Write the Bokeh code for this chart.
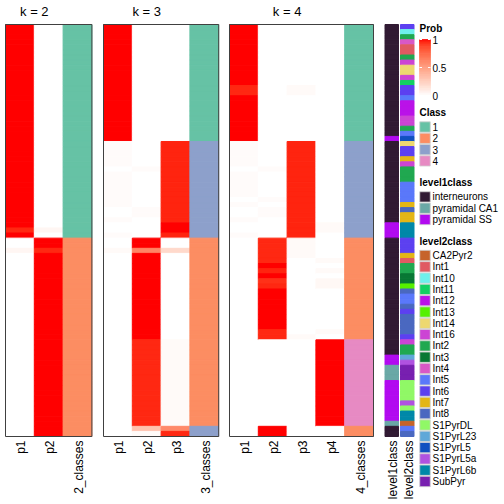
import math
import numpy as np
from bokeh.plotting import figure
from bokeh.models import Range1d, LinearColorMapper, ColumnDataSource
from bokeh.embed import file_html
from bokeh.resources import INLINE
from bokeh.core.properties import value

# ---------------- data ----------------
N_ROWS = 81

K2_P1 = [1, 1, 1, 1, 1, 1, 1, 1, 1, 1,
         1, 1, 1, 1, 1, 1, 1, 1, 1, 1,
         1, 1, 1, 1, 1, 1, 1, 1, 1, 1,
         1, 1, 1, 1, 1, 1, 1, 1, 1, 1,
         0.95, 1, 0, 0, 0.05, 0, 0, 0, 0, 0,
         0, 0, 0, 0, 0, 0, 0, 0, 0, 0,
         0, 0, 0, 0, 0, 0, 0, 0, 0, 0,
         0, 0, 0, 0, 0, 0, 0, 0, 0, 0,
         0]
K2_P2 = [0, 0, 0, 0, 0, 0, 0, 0, 0, 0,
         0, 0, 0, 0, 0, 0, 0, 0, 0, 0,
         0, 0, 0, 0, 0, 0, 0, 0, 0, 0,
         0, 0, 0, 0, 0, 0, 0, 0, 0, 0,
         0.05, 0, 1, 1, 0.95, 1, 1, 1, 1, 1,
         1, 1, 1, 1, 1, 1, 1, 1, 1, 1,
         1, 1, 1, 1, 1, 1, 1, 1, 1, 1,
         1, 1, 1, 1, 1, 1, 1, 1, 1, 1,
         1]
K2_CLASS = [1, 1, 1, 1, 1, 1, 1, 1, 1, 1,
            1, 1, 1, 1, 1, 1, 1, 1, 1, 1,
            1, 1, 1, 1, 1, 1, 1, 1, 1, 1,
            1, 1, 1, 1, 1, 1, 1, 1, 1, 1,
            1, 1, 2, 2, 2, 2, 2, 2, 2, 2,
            2, 2, 2, 2, 2, 2, 2, 2, 2, 2,
            2, 2, 2, 2, 2, 2, 2, 2, 2, 2,
            2, 2, 2, 2, 2, 2, 2, 2, 2, 2,
            2]

K3_P1 = [1, 1, 1, 1, 1, 1, 1, 1, 1, 1,
         1, 1, 1, 1, 1, 1, 1, 1, 1, 1,
         1, 1, 1, 0.02, 0.02, 0.02, 0.02, 0.02, 0, 0.02,
         0.02, 0.02, 0.02, 0.02, 0.02, 0.02, 0, 0, 0.02, 0,
         0, 0.02, 0, 0, 0.03, 0, 0, 0, 0, 0,
         0, 0, 0, 0, 0, 0, 0, 0, 0, 0,
         0, 0, 0, 0, 0, 0, 0, 0, 0, 0,
         0, 0, 0, 0, 0, 0, 0, 0, 0, 0,
         0]
K3_P2 = [0, 0, 0, 0, 0, 0, 0, 0, 0, 0,
         0, 0, 0, 0, 0, 0, 0, 0, 0, 0,
         0, 0, 0, 0, 0, 0, 0, 0, 0.02, 0,
         0, 0, 0, 0, 0, 0, 0.02, 0.02, 0, 0,
         0, 0, 1, 1, 0.62, 1, 1, 1, 1, 1,
         1, 1, 1, 1, 1, 1, 1, 1, 1, 1,
         1, 1, 0.95, 0.95, 0.95, 0.95, 0.95, 0.95, 0.95, 0.95,
         0.95, 0.95, 0.95, 0.95, 0.95, 0.95, 0.95, 0.95, 0.95, 0.32,
         0.03]
K3_P3 = [0, 0, 0, 0, 0, 0, 0, 0, 0, 0,
         0, 0, 0, 0, 0, 0, 0, 0, 0, 0,
         0, 0, 0, 0.96, 0.96, 0.96, 0.96, 0.96, 0.96, 0.96,
         0.96, 0.96, 0.96, 0.96, 0.96, 0.96, 0.96, 0.96, 0.96, 1,
         1, 0.96, 0, 0, 0.2, 0, 0, 0, 0, 0,
         0, 0, 0, 0, 0, 0, 0, 0, 0, 0,
         0, 0, 0.03, 0.03, 0.03, 0.03, 0.03, 0.03, 0.03, 0.03,
         0.03, 0.03, 0.03, 0.03, 0.03, 0.03, 0.03, 0.03, 0.03, 0.6,
         0.95]
K3_CLASS = [1, 1, 1, 1, 1, 1, 1, 1, 1, 1,
            1, 1, 1, 1, 1, 1, 1, 1, 1, 1,
            1, 1, 1, 3, 3, 3, 3, 3, 3, 3,
            3, 3, 3, 3, 3, 3, 3, 3, 3, 3,
            3, 3, 2, 2, 2, 2, 2, 2, 2, 2,
            2, 2, 2, 2, 2, 2, 2, 2, 2, 2,
            2, 2, 2, 2, 2, 2, 2, 2, 2, 2,
            2, 2, 2, 2, 2, 2, 2, 2, 2, 3,
            3]

K4_P1 = [1, 1, 1, 1, 1, 1, 1, 1, 1, 1,
         1, 1, 0.95, 0.95, 1, 1, 1, 1, 1, 1,
         1, 1, 1, 0.02, 0.02, 0.02, 0.02, 0.02, 0, 0.02,
         0.02, 0.02, 0.02, 0.02, 0, 0.02, 0, 0, 0.02, 0,
         0, 0.02, 0, 0, 0, 0, 0, 0, 0, 0,
         0, 0, 0, 0, 0, 0, 0, 0, 0, 0,
         0, 0, 0, 0, 0, 0, 0, 0, 0, 0,
         0, 0, 0, 0, 0, 0, 0, 0, 0, 0,
         0]
K4_P2 = [0, 0, 0, 0, 0, 0, 0, 0, 0, 0,
         0, 0, 0, 0, 0, 0, 0, 0, 0, 0,
         0, 0, 0, 0, 0, 0, 0, 0, 0.02, 0,
         0, 0, 0, 0, 0.02, 0, 0.02, 0.02, 0, 0,
         0, 0, 0.95, 0.95, 0.95, 0.95, 0.95, 1, 0.96, 1,
         0.93, 0.95, 1, 1, 1, 1, 1, 1, 1, 1,
         0.95, 0.95, 0, 0, 0, 0, 0, 0, 0, 0,
         0, 0, 0, 0, 0, 0, 0, 0, 0, 1,
         1]
K4_P3 = [0, 0, 0, 0, 0, 0, 0, 0, 0, 0,
         0, 0, 0.03, 0.03, 0, 0, 0, 0, 0, 0,
         0, 0, 0, 0.96, 0.96, 0.96, 0.96, 0.96, 0.96, 0.96,
         0.96, 0.96, 0.96, 0.96, 0.96, 0.96, 0.96, 0.96, 0.96, 0.96,
         0.96, 0.96, 0.03, 0.03, 0.03, 0.03, 0, 0, 0, 0,
         0, 0, 0, 0, 0, 0, 0, 0, 0, 0,
         0, 0.03, 0, 0, 0, 0, 0, 0, 0, 0,
         0, 0, 0, 0, 0, 0, 0, 0, 0, 0,
         0]
K4_P4 = [0, 0, 0, 0, 0, 0, 0, 0, 0, 0,
         0, 0, 0, 0, 0, 0, 0, 0, 0, 0,
         0, 0, 0, 0, 0, 0, 0, 0, 0, 0,
         0, 0, 0, 0, 0, 0, 0, 0, 0, 0.03,
         0.03, 0, 0, 0, 0, 0, 0.03, 0, 0.03, 0,
         0.04, 0.04, 0, 0, 0, 0, 0, 0, 0, 0,
         0.03, 0, 1, 1, 1, 1, 1, 1, 1, 1,
         1, 1, 1, 1, 1, 1, 1, 1, 1, 0,
         0]
K4_CLASS = [1, 1, 1, 1, 1, 1, 1, 1, 1, 1,
            1, 1, 1, 1, 1, 1, 1, 1, 1, 1,
            1, 1, 1, 3, 3, 3, 3, 3, 3, 3,
            3, 3, 3, 3, 3, 3, 3, 3, 3, 3,
            3, 3, 2, 2, 2, 2, 2, 2, 2, 2,
            2, 2, 2, 2, 2, 2, 2, 2, 2, 2,
            2, 2, 4, 4, 4, 4, 4, 4, 4, 4,
            4, 4, 4, 4, 4, 4, 4, 4, 4, 2,
            2]

IN, CA1, SS = "interneurons", "pyramidal CA1", "pyramidal SS"
LEVEL1 = [IN, IN, IN, IN, IN, IN, IN, IN, IN, IN,
          IN, IN, IN, IN, IN, IN, IN, IN, IN, IN,
          IN, IN, SS, IN, IN, IN, IN, IN, IN, IN,
          IN, IN, IN, IN, IN, IN, IN, IN, IN, SS,
          SS, SS, IN, IN, IN, IN, IN, IN, IN, IN,
          IN, IN, IN, IN, IN, IN, IN, IN, IN, IN,
          IN, IN, IN, IN, IN, SS, SS, CA1, CA1, CA1,
          SS, SS, SS, SS, SS, SS, SS, SS, CA1, IN,
          IN]
LEVEL2 = ["Int6", "Int10", "Int2", "Int4", "Int1", "Int1", "Int2", "Int16", "Int14", "Int14",
          "Int16", "Int11", "Int6", "Int6", "Int5", "Int12", "Int12", "Int12", "Int16", "Int16",
          "Int2", "Int5", "S1PyrL5", "Int14", "Int6", "Int6", "Int7", "Int16", "Int2", "Int2",
          "Int2", "Int5", "Int5", "Int5", "Int5", "Int7", "Int8", "Int7", "Int7", "S1PyrL6b",
          "S1PyrL6b", "S1PyrL6b", "Int6", "Int6", "Int6", "Int7", "Int1", "Int2", "Int2", "Int3",
          "Int3", "Int13", "Int8", "Int5", "Int5", "Int8", "Int6", "Int8", "Int8", "Int8",
          "Int8", "Int6", "Int16", "Int2", "Int2", "S1PyrL23", "S1PyrL5a", "SubPyr", "SubPyr", "SubPyr",
          "S1PyrDL", "S1PyrDL", "S1PyrDL", "S1PyrDL", "S1PyrL5a", "S1PyrDL", "S1PyrL6b", "S1PyrL6b", "CA2Pyr2", "Int5",
          "Int8"]

CLASS_NAMES = ["1", "2", "3", "4"]
CLASS_COLORS = ["#66C2A5", "#FC8D62", "#8DA0CB", "#E78AC3"]
LEVEL1_NAMES = ["interneurons", "pyramidal CA1", "pyramidal SS"]
LEVEL1_COLORS = ["#311A33", "#6AA8A6", "#B20AF0"]
LEVEL2_NAMES = ["CA2Pyr2", "Int1", "Int10", "Int11", "Int12", "Int13", "Int14", "Int16",
                "Int2", "Int3", "Int4", "Int5", "Int6", "Int7", "Int8", "S1PyrDL",
                "S1PyrL23", "S1PyrL5", "S1PyrL5a", "S1PyrL6b", "SubPyr"]
LEVEL2_COLORS = ["#C6632A", "#E05A62", "#6EF0EC", "#12D062", "#BA12E8", "#56F000", "#EDD870", "#CC44D4",
                 "#20A850", "#087834", "#D858C6", "#5A78FA", "#5C40F0", "#E3B616", "#4A68C0", "#90F866",
                 "#60A8D8", "#1050C0", "#B052E0", "#0088A8", "#7820B0"]
PROB_TICKS = [0, 0.5, 1]
PROB_TICK_LABELS = ["0", "0.5", "1"]

FONT = "Liberation Sans"

# ---------------- white -> red palette interpolated in LAB ----------------
_M = np.array([[0.4124564, 0.3575761, 0.1804375],
               [0.2126729, 0.7151522, 0.0721750],
               [0.0193339, 0.1191920, 0.9503041]])
_WHITE = np.array([0.95047, 1.0, 1.08883])


def _rgb2lab(rgb):
    c = np.asarray(rgb, float) / 255.0
    lin = np.where(c <= 0.04045, c / 12.92, ((c + 0.055) / 1.055) ** 2.4)
    xyz = _M @ lin / _WHITE
    d = 6 / 29
    f = np.where(xyz > d ** 3, np.cbrt(xyz), xyz / (3 * d * d) + 4 / 29)
    return np.array([116 * f[1] - 16, 500 * (f[0] - f[1]), 200 * (f[1] - f[2])])


def _lab2hex(lab):
    L, a, b = lab
    fy = (L + 16) / 116
    f = np.array([fy + a / 500, fy, fy - b / 200])
    d = 6 / 29
    xyz = np.where(f > d, f ** 3, 3 * d * d * (f - 4 / 29)) * _WHITE
    lin = np.clip(np.linalg.solve(_M, xyz), 0, 1)
    c = np.where(lin <= 0.0031308, 12.92 * lin, 1.055 * lin ** (1 / 2.4) - 0.055)
    r, g, bb = np.clip(np.round(c * 255), 0, 255).astype(int)
    return "#%02x%02x%02x" % (r, g, bb)


_lw, _lr = _rgb2lab([255, 255, 255]), _rgb2lab([255, 0, 0])
PALETTE = [_lab2hex(_lw + t * (_lr - _lw)) for t in np.linspace(0, 1, 256)]
mapper = LinearColorMapper(palette=PALETTE, low=0, high=1)

# ---------------- layout (figure units = pixels) ----------------
W = H = 500
PANEL_LEFT = {2: 5, 3: 103, 4: 229}
CW = 28.8
Y0 = 24
HM_H = 412
RH = HM_H / N_ROWS
ANN_LEFT = [384.5, 400]
ANN_W = 13.5
LABEL_GAP = 4
SEAM_W = 1.0   # stroke in the fill colour, hides anti-aliasing seams between cells

p = figure(width=W, height=H, x_range=Range1d(0, W), y_range=Range1d(H, 0),
           min_border=0, toolbar_location=None, output_backend="svg",
           x_axis_location=None, y_axis_location=None)
p.outline_line_color = None
p.grid.visible = False
p.background_fill_color = "white"
p.border_fill_color = "white"

col_label_style = dict(text_font=value(FONT), text_font_size="12px", angle=math.pi / 2,
                       text_align="right", text_baseline="middle", text_color="black",
                       x_offset=1.5)


def heat_panel(k, probs, classes):
    x0 = PANEL_LEFT[k]
    cols = ["p%d" % (i + 1) for i in range(k)] + ["%d_classes" % k]
    L, R, T, B, V = [], [], [], [], []
    for ci in range(k):
        for r in range(N_ROWS):
            L.append(x0 + ci * CW); R.append(x0 + (ci + 1) * CW)
            T.append(Y0 + r * RH); B.append(Y0 + (r + 1) * RH)
            V.append(probs[ci][r])
    src = ColumnDataSource(dict(l=L, r=R, t=T, b=B, v=V))
    p.quad(left="l", right="r", top="t", bottom="b", source=src,
           fill_color={"field": "v", "transform": mapper},
           line_color={"field": "v", "transform": mapper}, line_width=SEAM_W)
    cc = [CLASS_COLORS[c - 1] for c in classes]
    p.quad(left=[x0 + k * CW] * N_ROWS, right=[x0 + (k + 1) * CW] * N_ROWS,
           top=[Y0 + r * RH for r in range(N_ROWS)],
           bottom=[Y0 + (r + 1) * RH for r in range(N_ROWS)],
           fill_color=cc, line_color=cc, line_width=SEAM_W)
    # panel border
    p.quad(left=[x0], right=[x0 + (k + 1) * CW], top=[Y0], bottom=[Y0 + HM_H],
           fill_color=None, line_color="#404040", line_width=1)
    # column labels
    p.text(x=[x0 + (i + 0.5) * CW for i in range(k + 1)], y=[Y0 + HM_H + LABEL_GAP] * (k + 1),
           text=cols, **col_label_style)
    # title centred over the probability columns
    p.text(x=[x0 + k * CW / 2], y=[11], text=["k = %d" % k], text_font=value(FONT),
           text_font_size="13px", text_align="center", text_baseline="middle", text_color="black")


heat_panel(2, [K2_P1, K2_P2], K2_CLASS)
heat_panel(3, [K3_P1, K3_P2, K3_P3], K3_CLASS)
heat_panel(4, [K4_P1, K4_P2, K4_P3, K4_P4], K4_CLASS)

# ---------------- annotation columns ----------------
l1c = dict(zip(LEVEL1_NAMES, LEVEL1_COLORS))
l2c = dict(zip(LEVEL2_NAMES, LEVEL2_COLORS))
for xa, names, cmap in [(ANN_LEFT[0], LEVEL1, l1c), (ANN_LEFT[1], LEVEL2, l2c)]:
    cc = [cmap[v] for v in names]
    p.quad(left=[xa] * N_ROWS, right=[xa + ANN_W] * N_ROWS,
           top=[Y0 + r * RH for r in range(N_ROWS)],
           bottom=[Y0 + (r + 1) * RH for r in range(N_ROWS)],
           fill_color=cc, line_color=cc, line_width=SEAM_W)
p.text(x=[xa + ANN_W / 2 for xa in ANN_LEFT], y=[Y0 + HM_H + LABEL_GAP] * 2,
       text=["level1class", "level2class"], **col_label_style)

# ---------------- legends ----------------
SQ_X = 424.5
TXT_X = 432
TITLE_X = 419
ITEM_H = 11.3
title_font = dict(text_font=value(FONT), text_font_size="10px", text_font_style="bold",
                  text_baseline="middle", text_align="left", text_color="black")
label_font = dict(text_font=value(FONT), text_font_size="10px",
                  text_baseline="middle", text_align="left", text_color="black")

prob_title_y = 28
bar_top, bar_bot = 39, 95
steps = np.linspace(0, 1, 81)
dv = steps[1] - steps[0]
gsrc = ColumnDataSource(dict(
    b=[bar_bot - max(v - dv / 2, 0) * (bar_bot - bar_top) for v in steps],
    t=[bar_bot - min(v + dv / 2, 1) * (bar_bot - bar_top) for v in steps],
    v=list(steps)))
p.quad(left=419, right=430, bottom="b", top="t", source=gsrc,
       fill_color={"field": "v", "transform": mapper},
       line_color={"field": "v", "transform": mapper}, line_width=0.5)
tick_y = [bar_bot - t * (bar_bot - bar_top) for t in PROB_TICKS]
p.segment(x0=[419] * 3, x1=[421.5] * 3, y0=tick_y, y1=tick_y, line_color="white", line_width=1)
p.segment(x0=[427.5] * 3, x1=[430] * 3, y0=tick_y, y1=tick_y, line_color="white", line_width=1)
p.text(x=[TXT_X] * 3, y=tick_y, text=PROB_TICK_LABELS, **label_font)
p.text(x=[TITLE_X], y=[prob_title_y], text=["Prob"], **title_font)


def discrete_legend(title, names, colors, title_y):
    ys = [title_y + 14.5 + i * ITEM_H for i in range(len(names))]
    p.text(x=[TITLE_X], y=[title_y], text=[title], **title_font)
    p.rect(x=[SQ_X] * len(names), y=ys, width=10.5, height=ITEM_H - 1.0,
           fill_color=colors, line_color="#d0d0d0", line_width=0.8)
    p.text(x=[TXT_X] * len(names), y=ys, text=names, **label_font)
    return ys[-1]


last = discrete_legend("Class", CLASS_NAMES, CLASS_COLORS, 112)
last = discrete_legend("level1class", LEVEL1_NAMES, LEVEL1_COLORS, last + 21.5)
last = discrete_legend("level2class", LEVEL2_NAMES, LEVEL2_COLORS, last + 21.5)

open("out.html", "w").write(file_html(p, INLINE))
